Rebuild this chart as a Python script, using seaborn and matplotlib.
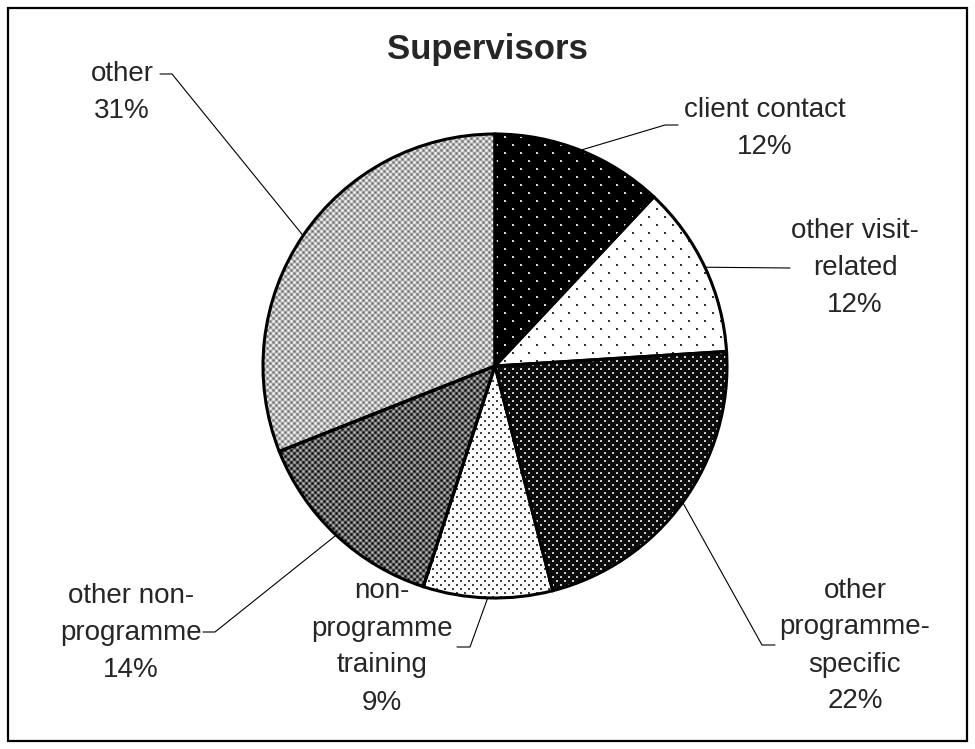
import numpy as np
import matplotlib
matplotlib.use('Agg')
import matplotlib.pyplot as plt
from matplotlib.patches import Rectangle
import seaborn as sns

# shares, clockwise from 12 o'clock
categories = ['client contact', 'other visit-\nrelated', 'other\nprogramme-\nspecific',
              'non-\nprogramme\ntraining', 'other non-\nprogramme', 'other']
shares = [12, 12, 22, 9, 14, 31]

sns.set_style('white')
plt.rcParams['font.family'] = ['Liberation Sans', 'DejaVu Sans']

W, H = 975, 749
R, CX, CY = 232, 495, 366   # pie radius / centre in pixels

fig = plt.figure(figsize=(W / 100, H / 100), dpi=100)
ax = fig.add_axes([0, 0, 1, 1])

wedges, _ = ax.pie(shares, startangle=90, counterclock=False,
                   colors=['none'] * len(shares),
                   wedgeprops=dict(edgecolor='black', linewidth=2.2, zorder=3))
xlim = (-CX / R, (W - CX) / R)
ylim = (-(H - CY) / R, CY / R)

# pixel textures imitating the old Excel pattern fills
yy, xx = np.mgrid[0:H, 0:W]


def dots(px, py, bg, fg):
    row = yy // py
    on = (yy % py < 2) & ((xx + (row % 2) * (px // 2)) % px < 2)
    img = np.full((H, W), bg, dtype=float)
    img[on] = fg
    return img


def weave(base, amp, p=6):
    c = np.cos(2 * np.pi * xx / p) * np.cos(2 * np.pi * yy / p)
    return np.clip(base + amp * c, 0, 1)


textures = [dots(16, 8, 0.0, 0.85), dots(16, 8, 1.0, 0.2), dots(8, 4, 0.05, 0.8),
            dots(8, 4, 1.0, 0.25), weave(0.38, 0.38), weave(0.72, 0.3)]

for w, tex in zip(wedges, textures):
    im = ax.imshow(tex, cmap='gray', vmin=0, vmax=1, extent=(*xlim, *ylim),
                   origin='upper', interpolation='nearest', aspect='auto', zorder=1)
    im.set_clip_path(w)


def to_data(px, py):
    return (px - CX) / R, (CY - py) / R


# label centres and leader-line bends, in pixels
label_pos = [(765, 128), (855, 268), (855, 646), (382, 647), (131, 633), (122, 92)]
leader_px = [[(665, 125), (678, 125)], [(790, 268)], [(762, 645), (775, 645)],
             [(470, 647), (457, 647)], [(215, 632), (203, 632)], [(172, 74), (160, 74)]]

for w, cat, pct, (tx, ty), pts in zip(wedges, categories, shares, label_pos, leader_px):
    ang = np.deg2rad((w.theta1 + w.theta2) / 2)
    xs = [np.cos(ang)] + [to_data(*p)[0] for p in pts]
    ys = [np.sin(ang)] + [to_data(*p)[1] for p in pts]
    ax.plot(xs, ys, color='black', lw=0.8, zorder=2)
    ax.text(*to_data(tx, ty), f'{cat}\n{pct}%', ha='center', va='center',
            fontsize=20, linespacing=1.55)

ax.set_xlim(xlim)
ax.set_ylim(ylim)
ax.set_aspect('auto')
ax.axis('off')

fig.text(487 / W, 1 - 59 / H, 'Supervisors', ha='center', va='baseline',
         fontsize=25, fontweight='bold')
fig.add_artist(Rectangle((8 / W, 8 / H), (W - 16) / W, (H - 16) / H,
                         transform=fig.transFigure, fill=False, lw=1.6, ec='black'))

fig.savefig('out.png', dpi=100)
